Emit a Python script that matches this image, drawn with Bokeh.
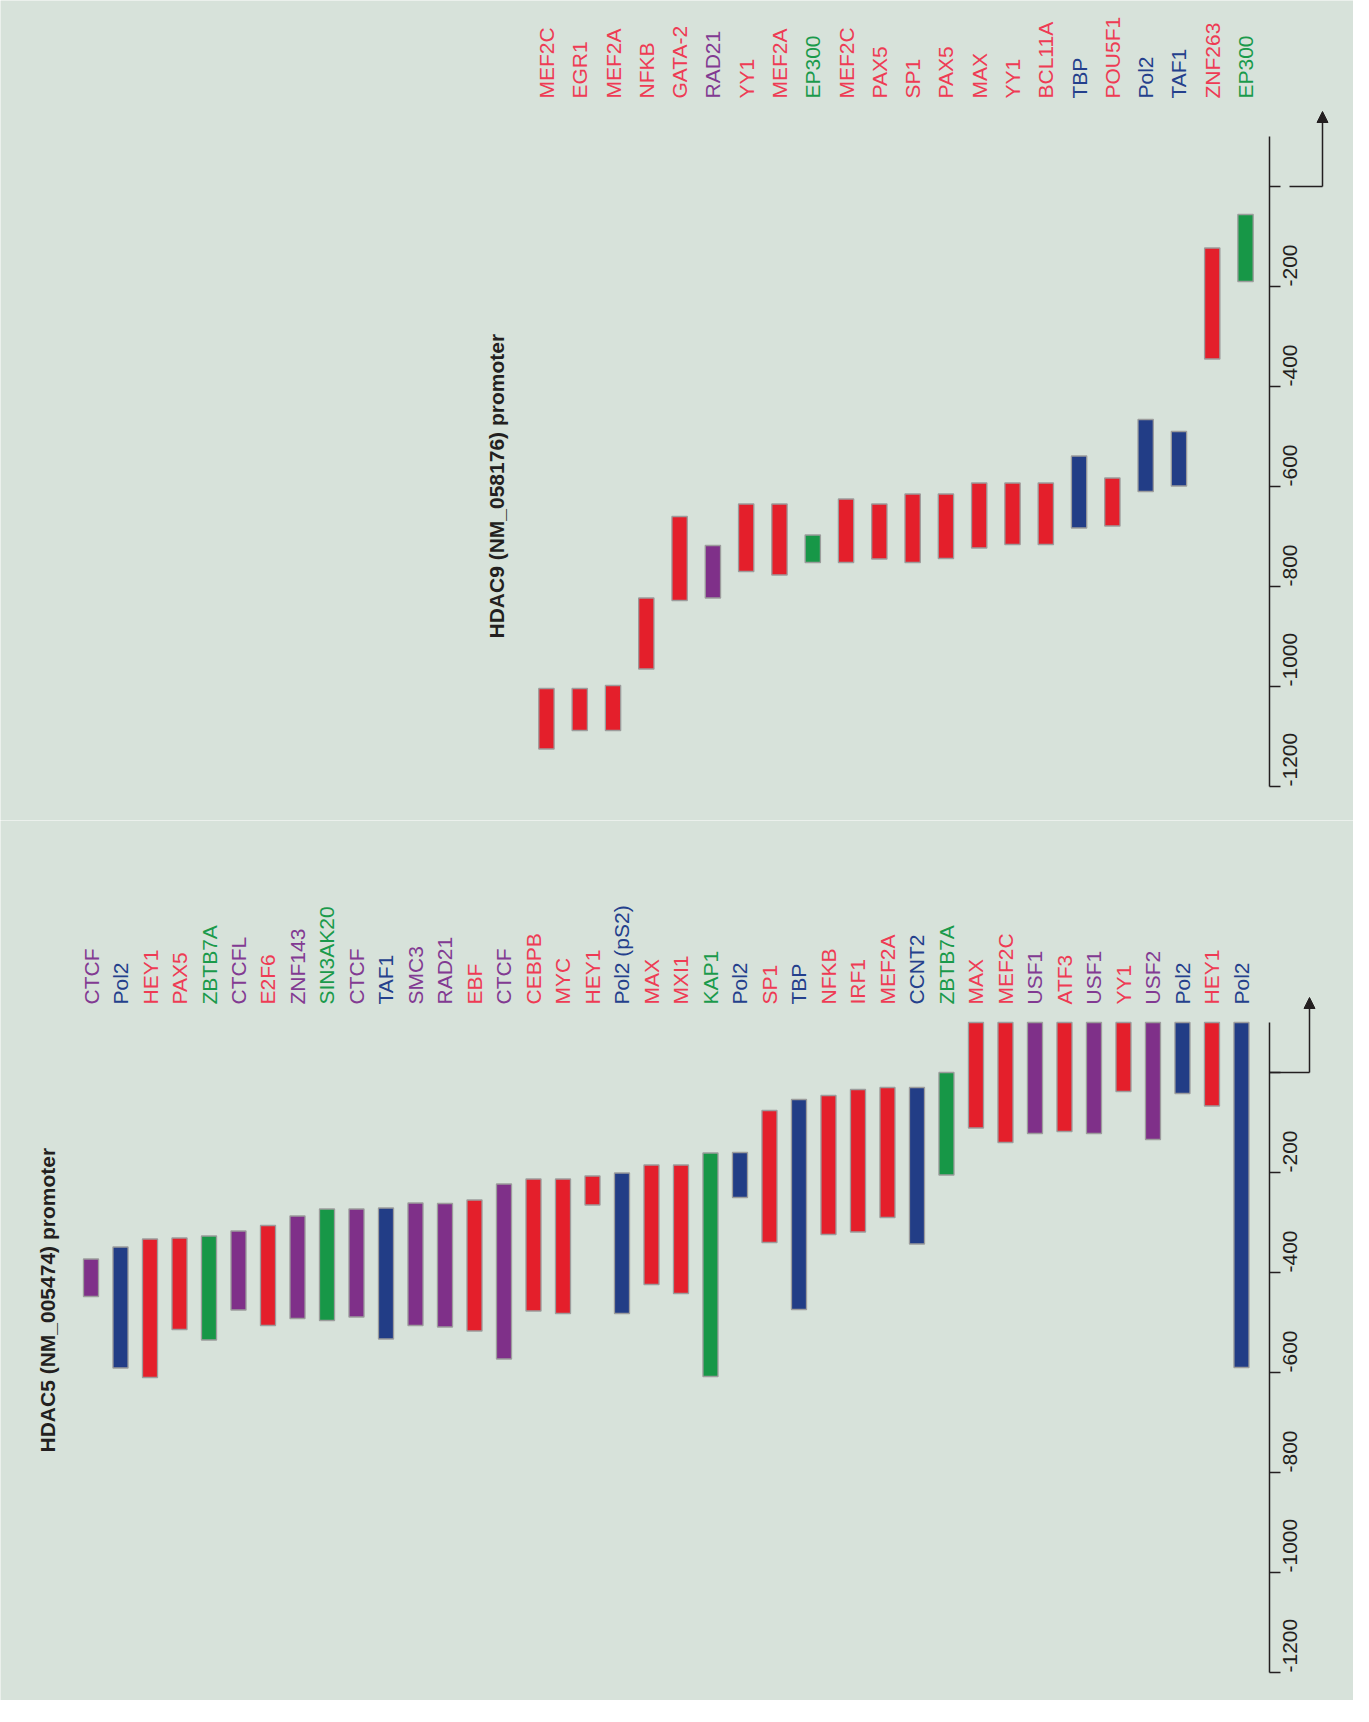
import math
from bokeh.plotting import figure
from bokeh.models import Range1d, LinearAxis, FixedTicker, Arrow, NormalHead, ColumnDataSource
from bokeh.layouts import column
from bokeh.core.properties import value
from bokeh.embed import file_html
from bokeh.resources import INLINE

# ---------------- data: HDAC9 (NM_058176) promoter ----------------
h9_names = ["MEF2C", "EGR1", "MEF2A", "NFKB", "GATA-2", "RAD21", "YY1", "MEF2A",
            "EP300", "MEF2C", "PAX5", "SP1", "PAX5", "MAX", "YY1", "BCL11A", "TBP",
            "POU5F1", "Pol2", "TAF1", "ZNF263", "EP300"]
h9_start = [-1004, -1004, -998, -823, -660, -718, -635, -635, -697, -625, -635, -615,
            -615, -593, -593, -593, -539, -583, -466, -490, -123, -56]
h9_end = [-1125, -1088, -1088, -965, -828, -823, -770, -777, -752, -752, -745, -752,
          -744, -723, -716, -716, -683, -679, -610, -599, -345, -190]
h9_group = ["R", "R", "R", "R", "R", "P", "R", "R", "G", "R", "R", "R",
            "R", "R", "R", "R", "B", "R", "B", "B", "R", "G"]

# ---------------- data: HDAC5 (NM_005474) promoter ----------------
h5_names = ["CTCF", "Pol2", "HEY1", "PAX5", "ZBTB7A", "CTCFL", "E2F6", "ZNF143",
            "SIN3AK20", "CTCF", "TAF1", "SMC3", "RAD21", "EBF", "CTCF", "CEBPB", "MYC",
            "HEY1", "Pol2 (pS2)", "MAX", "MXI1", "KAP1", "Pol2", "SP1", "TBP", "NFKB",
            "IRF1", "MEF2A", "CCNT2", "ZBTB7A", "MAX", "MEF2C", "USF1", "ATF3", "USF1",
            "YY1", "USF2", "Pol2", "HEY1", "Pol2"]
h5_start = [-373, -349, -333, -331, -327, -317, -306, -287, -273, -273, -271, -261,
            -262, -255, -223, -213, -213, -207, -201, -185, -185, -161, -160, -76,
            -54, -46, -34, -30, -30, 0, 100, 100, 100, 100, 100, 100, 100, 100, 100, 100]
h5_end = [-448, -591, -610, -514, -535, -475, -506, -492, -496, -489, -533, -506,
          -509, -517, -573, -477, -482, -265, -482, -424, -442, -608, -250, -340,
          -474, -324, -319, -290, -343, -205, -111, -140, -122, -118, -122, -38,
          -134, -42, -67, -590]
h5_group = ["P", "B", "R", "R", "G", "P", "R", "P", "G", "P", "B", "P", "P", "R", "P",
            "R", "R", "R", "B", "R", "R", "G", "B", "R", "B", "R", "R", "R", "B", "G",
            "R", "R", "P", "R", "P", "R", "P", "B", "R", "B"]

tick_values = [-1200, -1000, -800, -600, -400, -200, 0]
tick_labels = ["-1200", "-1000", "-800", "-600", "-400", "-200", ""]
axis_bounds = (-1200, 100)
tss_position = 0
tss_arrow_top = 150

# ---------------- styles ----------------
BAR_COLORS = {"R": "#e41f2b", "B": "#223d86", "P": "#7f3089", "G": "#179747"}
TEXT_COLORS = {"R": "#ee3b54", "B": "#24408c", "P": "#823a92", "G": "#1a9a4b"}
BG = "#d7e2da"
INK = "#231f20"
FONT = "Liberation Sans"

W = 1353
AXIS_PX = 1269          # axis line position inside the frame (px from frame left)
PX_PER_BP = 0.5


def make_panel(names, starts, ends, groups, title, height, x_lo, axis_x, y_top,
               label_y, title_x, title_y, bar_w, arrow_gap, arrow_len):
    units_per_px = (axis_x - x_lo) / AXIS_PX
    x_hi = x_lo + W * units_per_px
    y_hi = y_top
    y_lo = y_top - height / PX_PER_BP
    p = figure(width=W, height=height,
               x_range=Range1d(x_lo, x_hi), y_range=Range1d(y_lo, y_hi),
               output_backend="svg", toolbar_location=None,
               x_axis_location=None, y_axis_location=None,
               min_border_left=0, min_border_right=0,
               min_border_top=0, min_border_bottom=0,
               background_fill_color=BG, border_fill_color=BG,
               outline_line_color=None)
    p.xgrid.visible = False
    p.ygrid.visible = False

    src = ColumnDataSource(dict(
        x=list(range(len(names))), name=names, top=starts, bottom=ends,
        color=[BAR_COLORS[g] for g in groups],
        tcolor=[TEXT_COLORS[g] for g in groups]))

    p.vbar(x="x", top="top", bottom="bottom", width=bar_w, source=src,
           fill_color="color", line_color="#9c9c9c", line_width=1.3)

    p.text(x="x", y=label_y, text="name", source=src, angle=math.pi / 2,
           text_align="left", text_baseline="middle", text_color="tcolor",
           text_font=value(FONT), text_font_size="21px")

    p.text(x=[title_x], y=[title_y], text=[title], angle=math.pi / 2,
           text_align="left", text_baseline="middle", text_color=INK,
           text_font=value(FONT), text_font_size="21px", text_font_style="bold")

    ax = LinearAxis(ticker=FixedTicker(ticks=tick_values), bounds=axis_bounds,
                    fixed_location=axis_x,
                    major_label_overrides={t: l for t, l in zip(tick_values, tick_labels)})
    ax.axis_line_color = INK
    ax.axis_line_width = 1.5
    ax.major_tick_line_color = INK
    ax.major_tick_line_width = 1.5
    ax.major_tick_out = 11
    ax.major_tick_in = 0
    ax.minor_tick_out = 0
    ax.minor_tick_in = 0
    ax.major_label_orientation = math.pi / 2
    ax.major_label_standoff = 9
    ax.major_label_text_font = FONT
    ax.major_label_text_font_size = "21px"
    ax.major_label_text_color = INK
    p.add_layout(ax, "right")

    # transcription start site arrow
    x_start = axis_x + arrow_gap * units_per_px
    x_turn = axis_x + arrow_len * units_per_px
    p.add_layout(Arrow(end=None, x_start=x_start, y_start=tss_position,
                       x_end=x_turn, y_end=tss_position,
                       line_color=INK, line_width=1.5))
    p.add_layout(Arrow(end=NormalHead(size=11, fill_color=INK, line_color=INK,
                                      line_width=1),
                       x_start=x_turn, y_start=tss_position,
                       x_end=x_turn, y_end=tss_arrow_top,
                       line_color=INK, line_width=1.5))
    return p


top = make_panel(h9_names, h9_start, h9_end, h9_group,
                 "HDAC9 (NM_058176) promoter", 820,
                 -16.40, 21.72, 372, 176, -1.50, -904, 0.46, 20, 53)
bottom = make_panel(h5_names, h5_start, h5_end, h5_group,
                    "HDAC5 (NM_005474) promoter", 880,
                    -3.068, 39.95, 504, 136, -1.47, -760, 0.51, 0, 40)

layout = column(top, bottom, spacing=0)
open("out.html", "w").write(file_html(layout, INLINE))
